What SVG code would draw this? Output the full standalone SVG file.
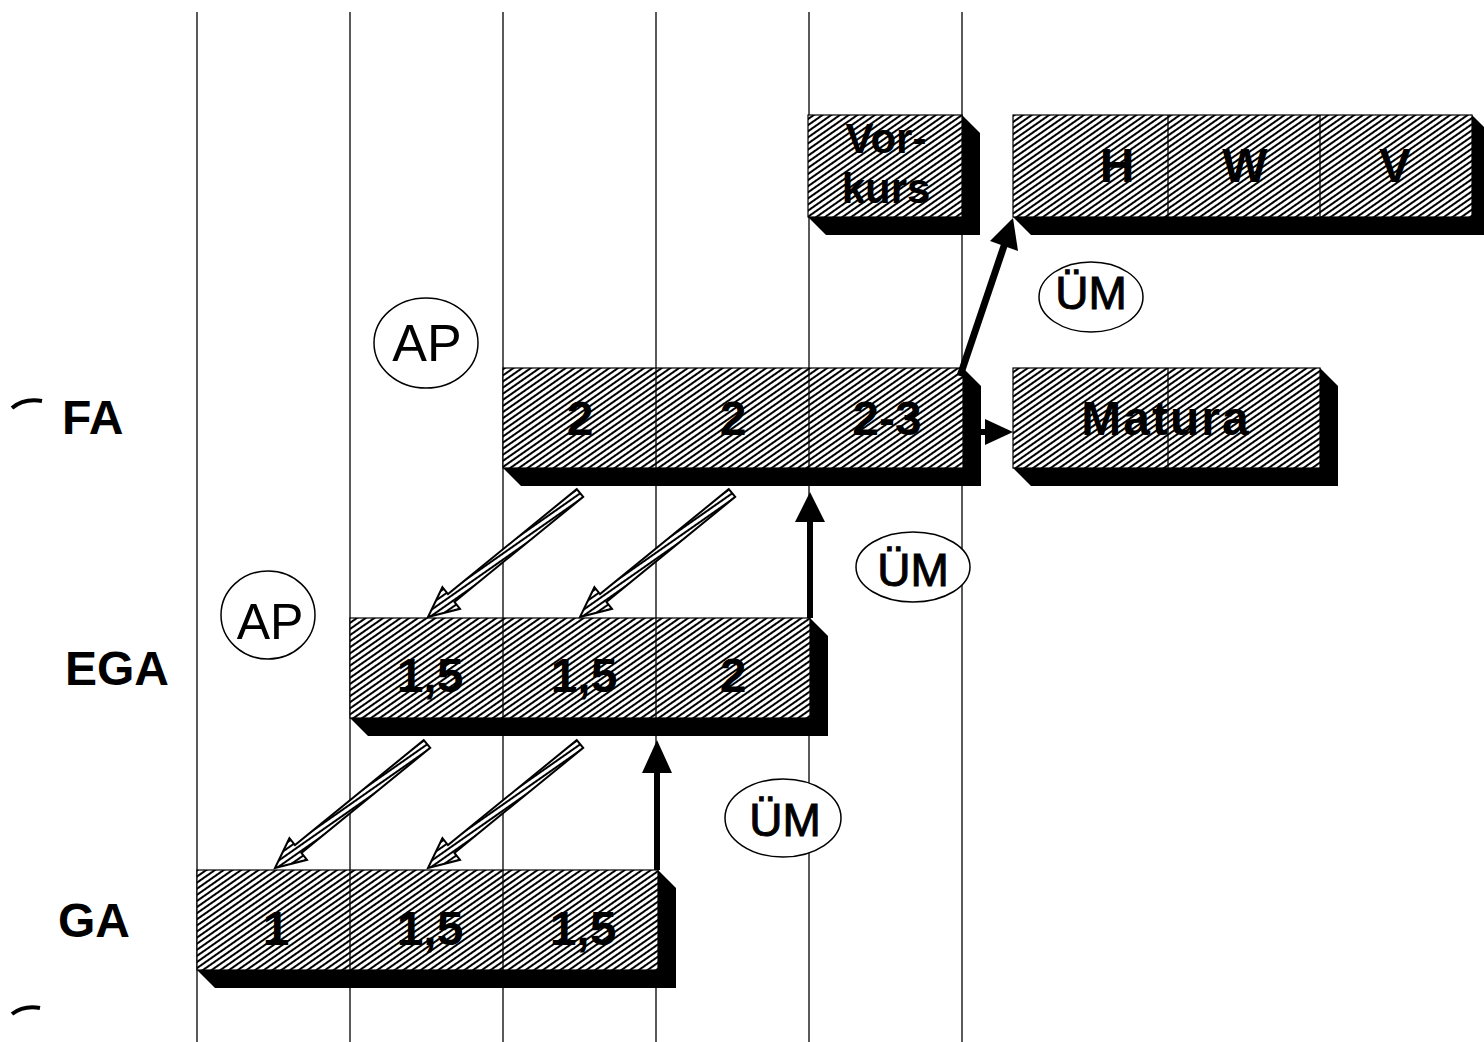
<svg xmlns="http://www.w3.org/2000/svg" xmlns:xlink="http://www.w3.org/1999/xlink" width="1484" height="1042" viewBox="0 0 1484 1042">
<style>
.grid{stroke:#000;stroke-width:1.3;fill:none}
.face{fill:url(#hatch);stroke:#000;stroke-width:1.2}
.shadow{fill:#000}
.div{stroke:#000;stroke-width:1.3}
.bt{font-family:"Liberation Sans",Arial,sans-serif;font-weight:bold;font-size:48px;fill:#000;text-anchor:middle}
.rl{font-family:"Liberation Sans",Arial,sans-serif;font-weight:bold;font-size:48px;fill:#000}
.ct{font-family:"Liberation Sans",Arial,sans-serif;font-size:50px;fill:#000;text-anchor:middle}
.oval{fill:#fff;stroke:#000;stroke-width:1.5}
.harrow{fill:url(#hatch);stroke:#000;stroke-width:2;stroke-linejoin:miter}
.blk{fill:#000}
</style>
<defs>
<pattern id="hatch" patternUnits="userSpaceOnUse" width="6" height="5" patternTransform="rotate(-35)">
<rect width="6" height="5" fill="#fff"/>
<rect width="6" height="2" fill="#000"/>
</pattern>
<polygon id="ha" class="harrow" points="148.8,-127.9 20,-22.9 14.4,-29.8 0,0 32,-8.2 26.4,-15.1 155.2,-120.1"/>
</defs>
<rect width="1484" height="1042" fill="#fff"/>
<g id="grid">
<line class="grid" x1="197" y1="12" x2="197" y2="1042"/>
<line class="grid" x1="350" y1="12" x2="350" y2="1042"/>
<line class="grid" x1="503" y1="12" x2="503" y2="1042"/>
<line class="grid" x1="656" y1="12" x2="656" y2="1042"/>
<line class="grid" x1="809" y1="12" x2="809" y2="1042"/>
<line class="grid" x1="962" y1="12" x2="962" y2="1042"/>
</g>
<g id="row-labels">
<path d="M12,408 Q24,398 42,401" stroke="#000" stroke-width="4" fill="none"/>
<path d="M12,1014 Q24,1005 40,1008" stroke="#000" stroke-width="4" fill="none"/>
<text class="rl" x="62" y="434">FA</text>
<text class="rl" x="65" y="685">EGA</text>
<text class="rl" x="58" y="937">GA</text>
</g>
<g id="node-vorkurs">
<polygon class="shadow" points="808,217 826,235 980,235 980,133 962,115"/>
<rect class="face" x="808" y="115" width="154" height="102"/>
<text class="bt" x="886" y="153" style="font-size:42px">Vor-</text>
<text class="bt" x="886" y="203" style="font-size:42px">kurs</text>
</g>
<g id="node-hwv">
<polygon class="shadow" points="1013,217 1031,235 1490,235 1490,133 1472,115"/>
<rect class="face" x="1013" y="115" width="459" height="102"/>
<line class="div" x1="1168" y1="115" x2="1168" y2="217"/>
<line class="div" x1="1320" y1="115" x2="1320" y2="217"/>
<text class="bt" x="1117" y="182">H</text>
<text class="bt" x="1245" y="182">W</text>
<text class="bt" x="1395" y="182">V</text>
</g>
<g id="node-fa">
<polygon class="shadow" points="503,468 521,486 981,486 981,386 963,368"/>
<rect class="face" x="503" y="368" width="460" height="100"/>
<line class="div" x1="656" y1="368" x2="656" y2="468"/>
<line class="div" x1="809" y1="368" x2="809" y2="468"/>
<text class="bt" x="580" y="435">2</text>
<text class="bt" x="733" y="435">2</text>
<text class="bt" x="887" y="435">2-3</text>
</g>
<g id="node-matura">
<polygon class="shadow" points="1013,468 1031,486 1338,486 1338,386 1320,368"/>
<rect class="face" x="1013" y="368" width="307" height="100"/>
<line class="div" x1="1168" y1="368" x2="1168" y2="468"/>
<text class="bt" x="1166" y="435" style="letter-spacing:2px">Matura</text>
</g>
<g id="node-ega">
<polygon class="shadow" points="350,718 368,736 828,736 828,636 810,618"/>
<rect class="face" x="350" y="618" width="460" height="100"/>
<line class="div" x1="503" y1="618" x2="503" y2="718"/>
<line class="div" x1="656" y1="618" x2="656" y2="718"/>
<text class="bt" x="430" y="692">1,5</text>
<text class="bt" x="584" y="692">1,5</text>
<text class="bt" x="733" y="692">2</text>
</g>
<g id="node-ga">
<polygon class="shadow" points="197,970 215,988 676,988 676,888 658,870"/>
<rect class="face" x="197" y="870" width="461" height="100"/>
<line class="div" x1="350" y1="870" x2="350" y2="970"/>
<line class="div" x1="503" y1="870" x2="503" y2="970"/>
<text class="bt" x="276" y="945">1</text>
<text class="bt" x="430" y="945">1,5</text>
<text class="bt" x="583" y="945">1,5</text>
</g>
<g id="node-ap1">
<ellipse class="oval" cx="426" cy="343" rx="52" ry="45"/>
<text class="ct" x="427" y="361" style="font-size:52px">AP</text>
</g>
<g id="node-ap2">
<ellipse class="oval" cx="268" cy="615" rx="47" ry="44"/>
<text class="ct" x="270" y="639">AP</text>
</g>
<g id="node-um1">
<ellipse class="oval" cx="1091" cy="297" rx="52" ry="35"/>
<text class="ct" x="1091" y="309" style="font-size:46px;stroke:#000;stroke-width:1">ÜM</text>
</g>
<g id="node-um2">
<ellipse class="oval" cx="913" cy="567" rx="57" ry="35"/>
<text class="ct" x="913" y="586" style="font-size:46px;stroke:#000;stroke-width:1">ÜM</text>
</g>
<g id="node-um3">
<ellipse class="oval" cx="783" cy="818" rx="58" ry="39"/>
<text class="ct" x="785" y="836" style="font-size:46px;stroke:#000;stroke-width:1">ÜM</text>
</g>
<g id="connectors">
<use xlink:href="#ha" href="#ha" x="428" y="617"/>
<use xlink:href="#ha" href="#ha" x="580" y="617"/>
<use xlink:href="#ha" href="#ha" x="275" y="868"/>
<use xlink:href="#ha" href="#ha" x="428" y="868"/>
<rect class="blk" x="807" y="518" width="6" height="100"/>
<polygon class="blk" points="810,492 795,522 825,522"/>
<rect class="blk" x="654" y="770" width="6" height="100"/>
<polygon class="blk" points="657,740 642,773 672,773"/>
<line x1="960" y1="376" x2="1005" y2="243" stroke="#000" stroke-width="7"/>
<polygon class="blk" points="1013,218 1018,251 990,241"/>
<line x1="981" y1="432" x2="992" y2="432" stroke="#000" stroke-width="6"/>
<polygon class="blk" points="1013,432 985,419 985,445"/>
</g>
</svg>
